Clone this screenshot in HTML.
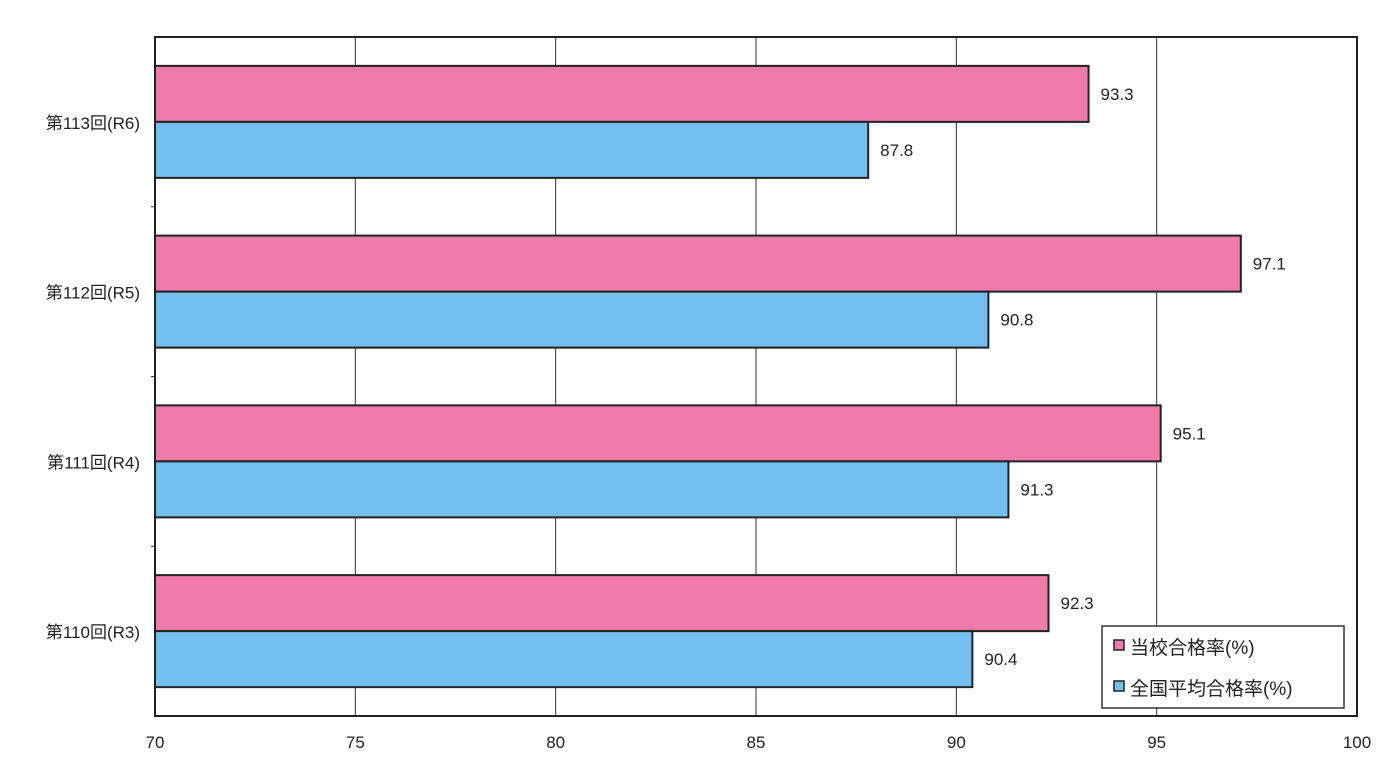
<!DOCTYPE html>
<html><head><meta charset="utf-8">
<style>
html,body{margin:0;padding:0;background:#fff;}
svg{display:block;font-family:"Liberation Sans","Noto Sans CJK JP",sans-serif;}
</style></head>
<body>
<svg id="chart" width="1400" height="765" viewBox="0 0 1400 765" xmlns="http://www.w3.org/2000/svg">
<rect x="0" y="0" width="1400" height="765" fill="#fff"/>
<g id="grid"></g>
<g id="bars"></g>
<rect x="155" y="37" width="1202" height="679" fill="none" stroke="#222" stroke-width="2"/>
<g id="labels"></g>
<g>
<rect x="1102" y="626" width="242" height="82" fill="#fff" stroke="#333" stroke-width="1.5"/>
<g>
<rect x="1114" y="640" width="10" height="10" fill="#ee7bac" stroke="#222" stroke-width="1.5"/>
<text x="1130" y="654" font-size="19" fill="#222">当校合格率(%)</text>
</g>
<g>
<rect x="1114" y="681" width="10" height="10" fill="#73c0f0" stroke="#222" stroke-width="1.5"/>
<text x="1130" y="695" font-size="19" fill="#222">全国平均合格率(%)</text>
</g>
</g>
</svg>
<script>
const categories = ["第113回(R6)", "第112回(R5)", "第111回(R4)", "第110回(R3)"];
const schoolRates = [93.3, 97.1, 95.1, 92.3];
const nationalRates = [87.8, 90.8, 91.3, 90.4];
const tickValues = [70, 75, 80, 85, 90, 95, 100];

const NS = "http://www.w3.org/2000/svg";
const L = 155, R = 1357, T = 37, B = 716;
const xMin = 70, xMax = 100;
const xScale = v => L + (v - xMin) / (xMax - xMin) * (R - L);
const band = (B - T) / categories.length;
const yCat = i => T + i * band;

function mk(tag, attrs, parent) {
  const e = document.createElementNS(NS, tag);
  for (const k in attrs) e.setAttribute(k, attrs[k]);
  parent.appendChild(e);
  return e;
}
const grid = document.getElementById("grid");
const bars = document.getElementById("bars");
const labels = document.getElementById("labels");

tickValues.forEach(v => {
  const x = xScale(v);
  if (v > xMin && v < xMax) {
    const g = mk("line", {x1: x, x2: x, y1: T, y2: B, stroke: "#333", "stroke-width": 1}, grid);
    
    
  }
  const t = mk("text", {x: x, y: 748, "font-size": 17, "text-anchor": "middle", fill: "#222"}, labels);
  t.textContent = v;
  
  
});

categories.forEach((c, i) => {
  const y0 = yCat(i);
  if (i > 0) {
    const tk = mk("line", {x1: L - 4, x2: L, y1: y0, y2: y0, stroke: "#333", "stroke-width": 1}, grid);
    
    
  }
  const bh = 56;
  const topY = y0 + band / 2 - bh;
  const series = [[schoolRates[i], "#ee7bac", "school"], [nationalRates[i], "#73c0f0", "national"]];
  series.forEach((s, j) => {
    const y = topY + j * bh;
    const r = mk("rect", {x: L, y: y, width: xScale(s[0]) - L, height: bh, fill: s[1], stroke: "#222", "stroke-width": 2}, bars);
    
    
    const t = mk("text", {x: xScale(s[0]) + 12, y: y + bh / 2 + 6, "font-size": 17, fill: "#222"}, labels);
    t.textContent = s[0].toFixed(1);
    
    
  });
  const ct = mk("text", {x: 140, y: y0 + band / 2 + 7, "font-size": 17, "text-anchor": "end", fill: "#222"}, labels);
  ct.textContent = c;
  
  
});
</script>
</body></html>
